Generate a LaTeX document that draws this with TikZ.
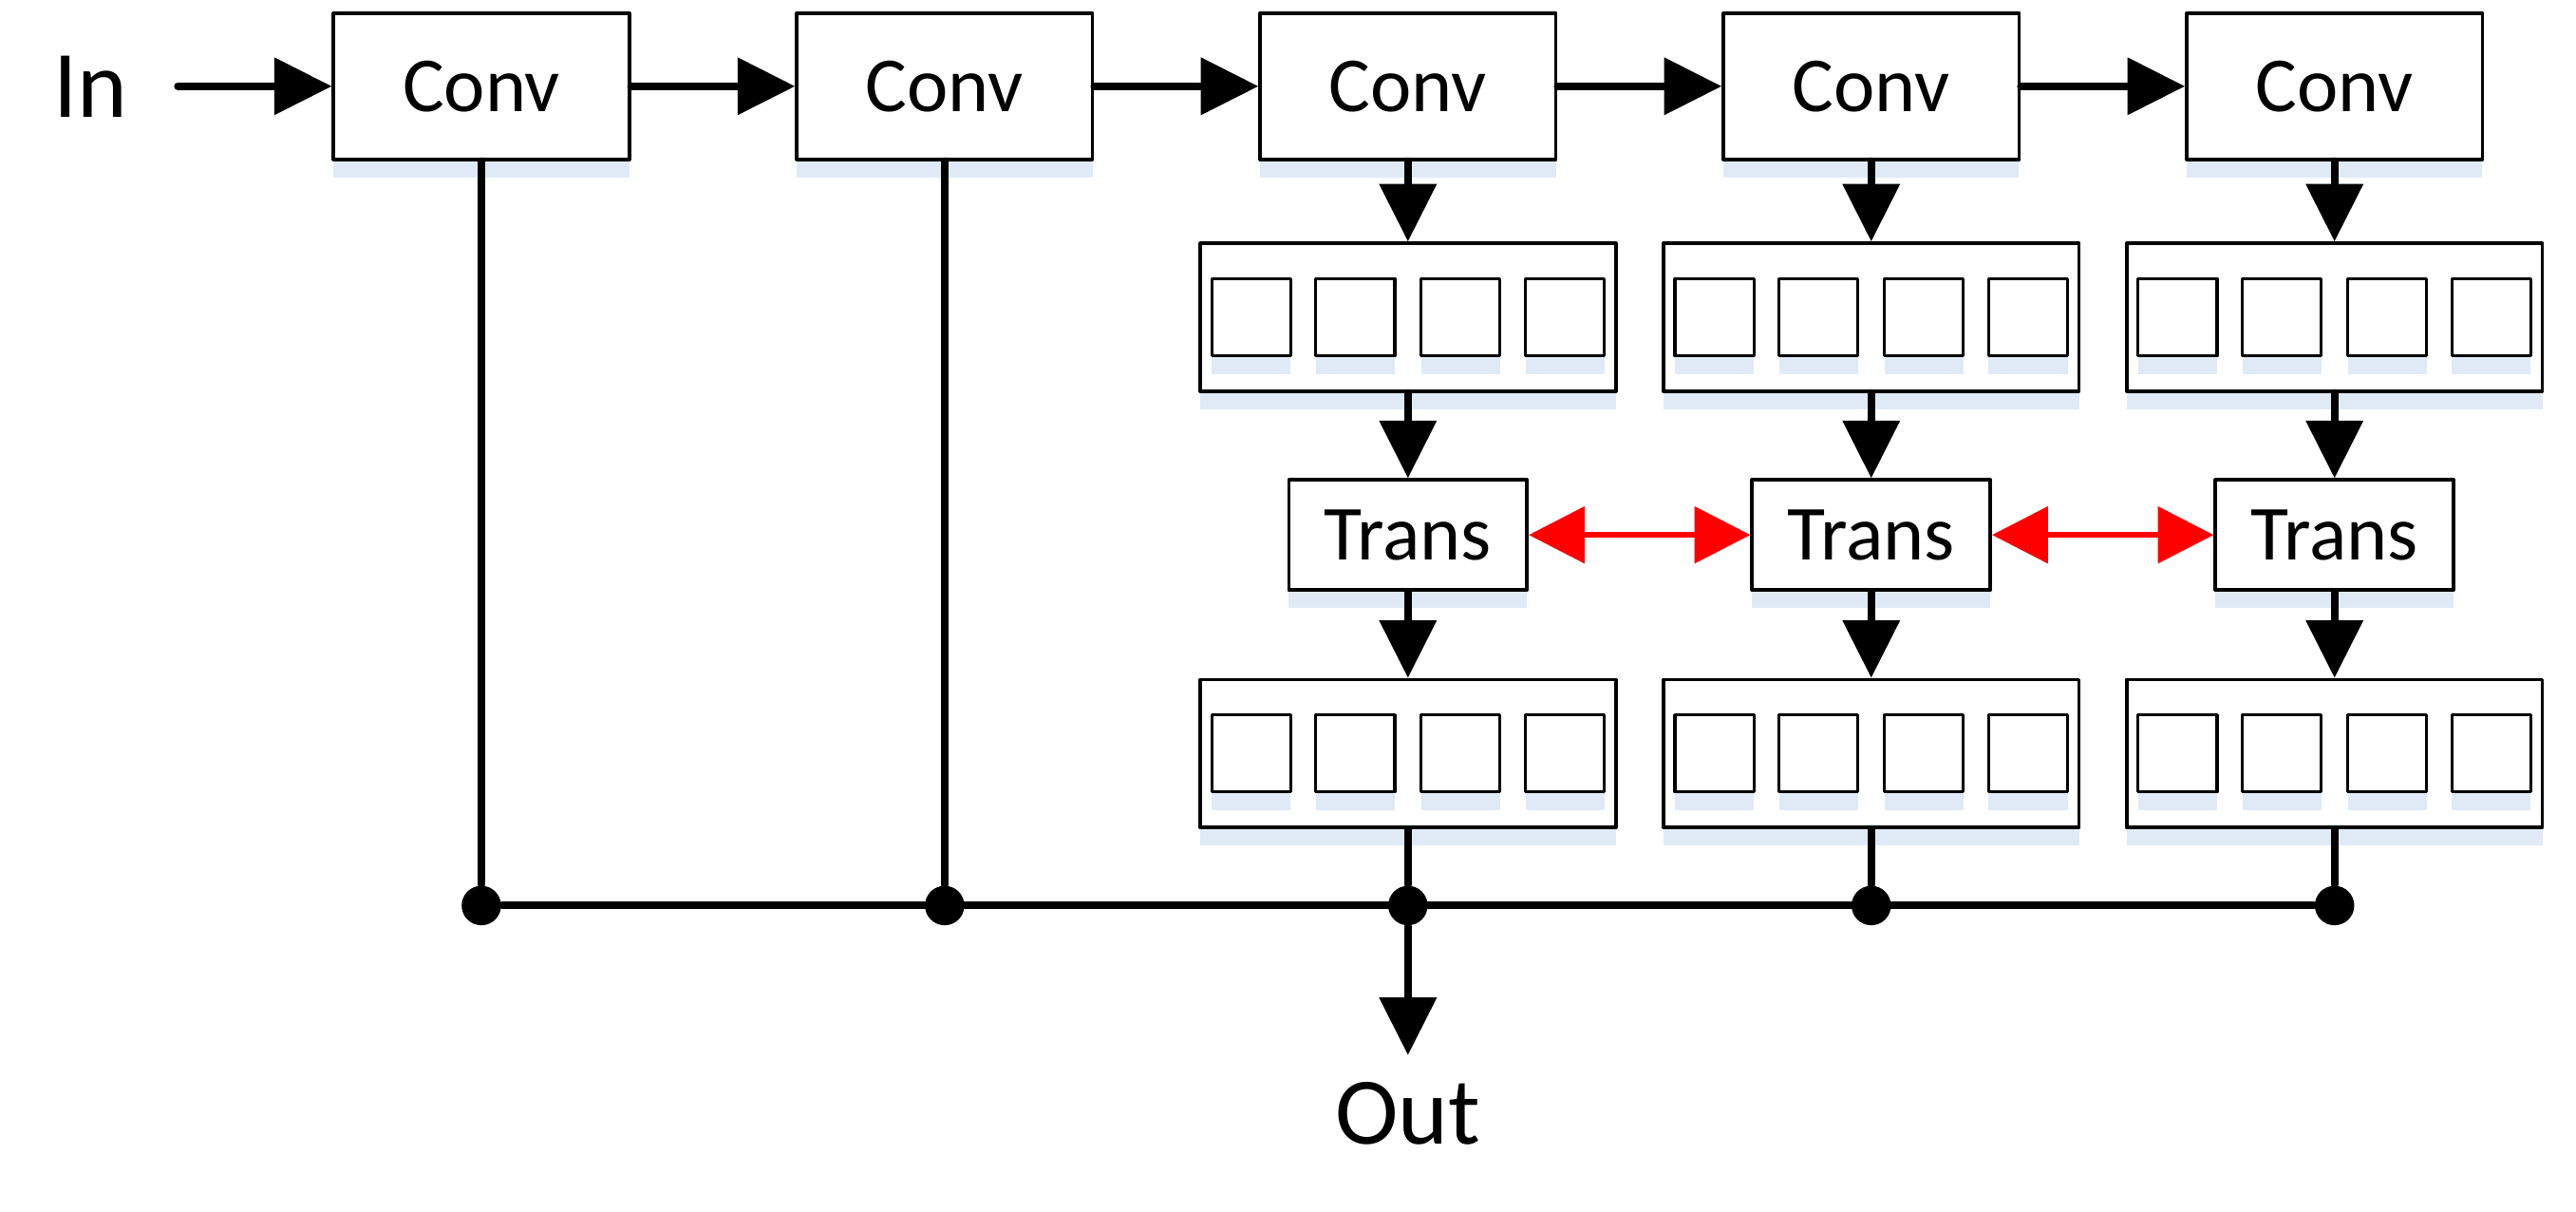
\documentclass[tikz,border=0pt]{standalone}
\usepackage{fontspec}
\setmainfont{Carlito}
\usetikzlibrary{arrows.meta,shadows}

\begin{document}
\begin{tikzpicture}[font=\fontsize{13.5}{16}\selectfont, line join=round, line cap=round]
  \definecolor{ink}{HTML}{000000}
  \definecolor{halo}{RGB}{224,234,247}
  \definecolor{redlink}{HTML}{FF0000}
  \path[use as bounding box] (0,0) rectangle (15.68,-7.37);
  \fill[white] (0,0) rectangle (15.68,-7.37);
  \tikzset{
    block/.style={draw=ink, line width=0.6pt, fill=white, inner sep=0pt,
      drop shadow={shadow xshift=0pt, shadow yshift=-1.1mm, fill=halo, opacity=1}},
    conv/.style={block, minimum width=1.80cm, minimum height=0.89cm},
    trans/.style={block, minimum width=1.45cm, minimum height=0.67cm},
    feat/.style={block, minimum width=2.53cm, minimum height=0.90cm},
    cell/.style={block, line width=0.5pt, minimum width=0.48cm, minimum height=0.47cm},
    term/.style={font=\fontsize{16.5}{20}\selectfont},
    joint/.style={circle, fill=ink, inner sep=0pt, minimum size=0.24cm},
    wire/.style={ink, line width=1.3pt},
    flow/.style={wire, -{Triangle[length=3.5mm, width=3.4mm]}},
    tie/.style={redlink, line width=1pt,
      {Triangle[length=3.4mm, width=3.4mm]}-{Triangle[length=3.4mm, width=3.4mm]}}
  }
  % Backbone of five convolutions fed from the input.
  \node[term, inner xsep=3mm] (in) at (0.55,-0.525) {In};
  \node[conv] (c1) at (2.93,-0.525) {Conv};
  \node[conv] (c2) at (5.75,-0.525) {Conv};
  \node[conv] (c3) at (8.57,-0.525) {Conv};
  \node[conv] (c4) at (11.39,-0.525) {Conv};
  \node[conv] (c5) at (14.21,-0.525) {Conv};
  % The last three stages pass through a feature row, a Trans block and a second row.
  \node[feat] (f3) at (8.57,-1.93) {};
  \node[feat] (f4) at (11.39,-1.93) {};
  \node[feat] (f5) at (14.21,-1.93) {};
  \node[trans] (t3) at (8.57,-3.255) {Trans};
  \node[trans] (t4) at (11.39,-3.255) {Trans};
  \node[trans] (t5) at (14.21,-3.255) {Trans};
  \node[feat] (g3) at (8.57,-4.585) {};
  \node[feat] (g4) at (11.39,-4.585) {};
  \node[feat] (g5) at (14.21,-4.585) {};
  \foreach \f in {f3,f4,f5,g3,g4,g5}
    \foreach \dx [count=\i] in {-0.955,-0.32,0.32,0.955}
      \node[cell] (\f-\i) at ([xshift=\dx cm]\f.center) {};
  % Junctions on the collecting bus, and the output below the middle one.
  \node[joint] (j1) at (2.93,-5.51) {};
  \node[joint] (j2) at (5.75,-5.51) {};
  \node[joint] (j3) at (8.57,-5.51) {};
  \node[joint] (j4) at (11.39,-5.51) {};
  \node[joint] (j5) at (14.21,-5.51) {};
  \node[term, anchor=north, inner ysep=1.6mm] (out) at (8.57,-6.42) {Out};
  \draw[flow] (in) -- (c1);
  \draw[flow] (c1) -- (c2);
  \draw[flow] (c2) -- (c3);
  \draw[flow] (c3) -- (c4);
  \draw[flow] (c4) -- (c5);
  \draw[flow] (c3) -- (f3);
  \draw[flow] (c4) -- (f4);
  \draw[flow] (c5) -- (f5);
  \draw[flow] (f3) -- (t3);
  \draw[flow] (f4) -- (t4);
  \draw[flow] (f5) -- (t5);
  \draw[flow] (t3) -- (g3);
  \draw[flow] (t4) -- (g4);
  \draw[flow] (t5) -- (g5);
  \draw[tie] (t3) -- (t4);
  \draw[tie] (t4) -- (t5);
  \draw[wire] (c1) -- (j1);
  \draw[wire] (c2) -- (j2);
  \draw[wire] (g3) -- (j3);
  \draw[wire] (g4) -- (j4);
  \draw[wire] (g5) -- (j5);
  \draw[wire] (j1) -- (j5);
  \draw[flow] (j3) -- (out);
\end{tikzpicture}
\end{document}
